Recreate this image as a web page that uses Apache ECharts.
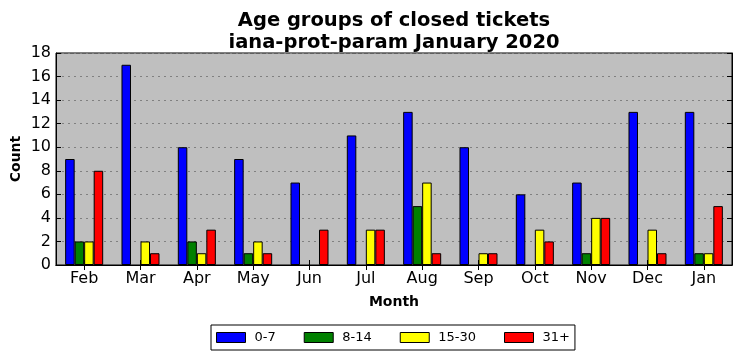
<!DOCTYPE html>
<html><head><meta charset="utf-8">
<script src="https://cdn.jsdelivr.net/npm/echarts@6/dist/echarts.min.js"></script>
<style>html,body{margin:0;padding:0;background:#fff}#c{width:741px;height:361px}</style>
</head><body><div id="c"></div>
<script>
const months = ['Feb','Mar','Apr','May','Jun','Jul','Aug','Sep','Oct','Nov','Dec','Jan'];
const seriesNames = ['0-7','8-14','15-30','31+'];
const s0_7   = [9,17,10,9,7,11,13,10,6,7,13,13];
const s8_14  = [2,0,2,1,0,0,5,0,0,1,0,1];
const s15_30 = [2,2,1,2,0,3,7,1,3,4,3,1];
const s31    = [8,1,3,1,3,3,1,1,2,4,1,5];
const yTicks = [0,2,4,6,8,10,12,14,16,18];
const colors = ['#0000ff','#008000','#ffff00','#ff0000'];
const values = [s0_7, s8_14, s15_30, s31];
const font = 'DejaVu Sans';

const chart = echarts.init(document.getElementById('c'), null, {renderer:'canvas'});
const series = values.map((v,i)=>({
  name: seriesNames[i], type:'bar', xAxisIndex:0, yAxisIndex:0,
  data: v.map(x => x === 0 ? '-' : x),
  barGap: '0%', barCategoryGap: '32.5%',
  itemStyle: {color: colors[i], borderColor:'#000', borderWidth:1},
  emphasis:{disabled:true}, animation:false
}));
chart.setOption({
  animation:false,
  title:{text:'Age groups of closed tickets\niana-prot-param January 2020', left:389, textAlign:'center', top:5,
    textStyle:{fontFamily:font, fontSize:19.5, fontWeight:'bold', color:'#000', lineHeight:22}},
  legend:{data:seriesNames, bottom:11, left:211, orient:'horizontal',
    itemWidth:29, itemHeight:10, itemGap:28,
    borderColor:'#000', borderWidth:1, padding:[6,5,6,5], borderRadius:0,
    icon:'rect',
    itemStyle:{borderColor:'#000', borderWidth:1},
    textStyle:{fontFamily:font, fontSize:13, color:'#000', padding:[0,0,0,4]}},
  grid:{left:56, right:9, top:53, bottom:96, show:true, backgroundColor:'#bfbfbf', borderColor:'#000', borderWidth:1,
    containLabel:false, outerBoundsMode:'none'},
  xAxis:[{type:'category', data:months, position:'bottom', boundaryGap:true,
    name:'Month', nameLocation:'middle', nameGap:30, nameMoveOverlap:false,
    nameTextStyle:{fontFamily:font, fontSize:14, fontWeight:'bold', color:'#000'},
    axisLine:{lineStyle:{color:'#000'}},
    axisTick:{show:true, inside:true, alignWithLabel:true, length:5, lineStyle:{color:'#000'}},
    axisLabel:{fontFamily:font, fontSize:16, color:'#000', margin:6}},
   {type:'category', data:months, position:'top', boundaryGap:true,
    axisLine:{lineStyle:{color:'#000'}},
    axisTick:{show:true, inside:true, alignWithLabel:true, length:5, lineStyle:{color:'#000'}},
    axisLabel:{show:false}}],
  yAxis:[{type:'value', min:0, max:18, interval:2,
    name:'Count', nameLocation:'middle', nameGap:33, nameMoveOverlap:false,
    nameTextStyle:{fontFamily:font, fontSize:14, fontWeight:'bold', color:'#000'},
    axisLine:{show:true, lineStyle:{color:'#000'}},
    axisTick:{show:true, inside:true, length:5, lineStyle:{color:'#000'}},
    axisLabel:{fontFamily:font, fontSize:16, color:'#000', margin:5},
    splitLine:{show:true, lineStyle:{color:'#808080', type:[2,4], width:1}}},
   {type:'value', min:0, max:18, interval:2, position:'right',
    axisLine:{show:true, lineStyle:{color:'#000'}},
    axisTick:{show:true, inside:true, length:5, lineStyle:{color:'#000'}},
    axisLabel:{show:false}, splitLine:{show:false}}],
  series: series
});
</script></body></html>
